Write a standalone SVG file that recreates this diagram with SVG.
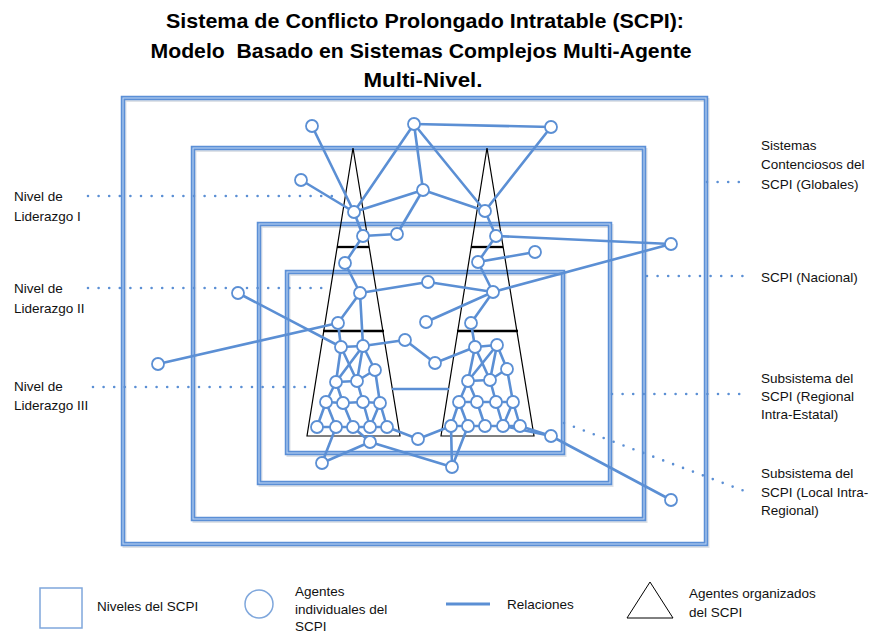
<svg xmlns="http://www.w3.org/2000/svg" width="873" height="635" viewBox="0 0 873 635">
<style>
.t{font-family:"Liberation Sans",Arial,sans-serif;font-size:13.5px;fill:#111}
.ti{font-family:"Liberation Sans",Arial,sans-serif;font-size:21px;font-weight:bold;fill:#000;white-space:pre}
.fr{fill:none;stroke:#5b8fd6;stroke-width:4.5}
.frh{fill:none;stroke:#b9d2f2;stroke-width:1.1}
.frs{fill:none;stroke:#7a8aa0;stroke-width:4;opacity:0.25}
.dot{fill:none;stroke:#5b8fd4;stroke-width:2.6;stroke-dasharray:0 10.6;stroke-linecap:round}
.tri{fill:none;stroke:#000;stroke-width:1.2}
.bar{stroke:#000;stroke-width:2.3}
#connectors line{stroke:#5b8fd4;stroke-width:2.6;stroke-linecap:round}
.nd{fill:#fff;stroke:#5b8fd4;stroke-width:1.8}
</style>
<rect width="873" height="635" fill="#fff"/>
<g id="title">
<text class="ti" x="425" y="28" text-anchor="middle" textLength="518" lengthAdjust="spacingAndGlyphs">Sistema de Conflicto Prolongado Intratable (SCPI):</text>
<text class="ti" x="421" y="58" text-anchor="middle" textLength="541" lengthAdjust="spacingAndGlyphs">Modelo  Basado en Sistemas Complejos Multi-Agente</text>
<text class="ti" x="423" y="87" text-anchor="middle" textLength="119" lengthAdjust="spacingAndGlyphs">Multi-Nivel.</text>
</g>
<g id="frames">
<g id="frame-globales"><rect class="frs" x="124.5" y="100" width="583" height="446"/><rect class="fr" x="123" y="98" width="583" height="446"/><rect class="frh" x="123" y="98" width="583" height="446"/></g>
<g id="frame-nacional"><rect class="frs" x="194.5" y="150" width="451" height="371"/><rect class="fr" x="193" y="148" width="451" height="371"/><rect class="frh" x="193" y="148" width="451" height="371"/></g>
<g id="frame-regional"><rect class="frs" x="260.5" y="226" width="351" height="259"/><rect class="fr" x="259" y="224" width="351" height="259"/><rect class="frh" x="259" y="224" width="351" height="259"/></g>
<g id="frame-local"><rect class="frs" x="288.5" y="274" width="276" height="181"/><rect class="fr" x="287" y="272" width="276" height="181"/><rect class="frh" x="287" y="272" width="276" height="181"/></g>
</g>
<g id="leaders">
<line class="dot" x1="88" y1="196" x2="342" y2="196"/>
<line class="dot" x1="88" y1="288" x2="328" y2="288"/>
<line class="dot" x1="93" y1="387" x2="308" y2="387"/>
<line class="dot" x1="707" y1="182" x2="748" y2="182"/>
<line class="dot" x1="647" y1="276" x2="748" y2="276"/>
<line class="dot" x1="612" y1="394" x2="748" y2="394"/>
<line class="dot" x1="564" y1="423" x2="747" y2="492"/>
</g>
<g id="labels">
<text class="t" x="14" y="201">Nivel de</text>
<text class="t" x="14" y="221">Liderazgo I</text>
<text class="t" x="14" y="293">Nivel de</text>
<text class="t" x="14" y="313">Liderazgo II</text>
<text class="t" x="14" y="391">Nivel de</text>
<text class="t" x="14" y="410">Liderazgo III</text>
<text class="t" x="761" y="150">Sistemas</text>
<text class="t" x="761" y="169">Contenciosos del</text>
<text class="t" x="761" y="189">SCPI (Globales)</text>
<text class="t" x="761" y="282">SCPI (Nacional)</text>
<text class="t" x="761" y="383">Subsistema del</text>
<text class="t" x="761" y="401">SCPI (Regional</text>
<text class="t" x="761" y="419">Intra-Estatal)</text>
<text class="t" x="761" y="478">Subsistema del</text>
<text class="t" x="761" y="497">SCPI (Local Intra-</text>
<text class="t" x="761" y="515">Regional)</text>
</g>
<g id="triangles">
<g id="triangle-left"><polygon class="tri" points="353,148 307,436 400,436"/><line class="bar" x1="337" y1="247" x2="369" y2="247"/><line class="bar" x1="323" y1="331" x2="384" y2="331"/></g>
<g id="triangle-right"><polygon class="tri" points="487,148 441,436 534,436"/><line class="bar" x1="471" y1="247" x2="503" y2="247"/><line class="bar" x1="457" y1="331" x2="518" y2="331"/></g>
</g>
<g id="connectors">
<line x1="312" y1="126" x2="354" y2="212"/>
<line x1="414" y1="124" x2="354" y2="212"/>
<line x1="301" y1="180" x2="354" y2="212"/>
<line x1="423" y1="190" x2="354" y2="212"/>
<line x1="414" y1="124" x2="423" y2="190"/>
<line x1="414" y1="124" x2="551" y2="127"/>
<line x1="414" y1="124" x2="485" y2="211"/>
<line x1="551" y1="127" x2="485" y2="211"/>
<line x1="423" y1="190" x2="485" y2="211"/>
<line x1="423" y1="190" x2="397" y2="234"/>
<line x1="354" y1="212" x2="363" y2="236"/>
<line x1="363" y1="236" x2="397" y2="234"/>
<line x1="363" y1="236" x2="345" y2="263"/>
<line x1="485" y1="211" x2="496" y2="236"/>
<line x1="496" y1="236" x2="671" y2="244"/>
<line x1="496" y1="236" x2="478" y2="262"/>
<line x1="478" y1="262" x2="535" y2="252"/>
<line x1="478" y1="262" x2="493" y2="292"/>
<line x1="493" y1="292" x2="671" y2="244"/>
<line x1="493" y1="292" x2="428" y2="282"/>
<line x1="493" y1="292" x2="426" y2="322"/>
<line x1="493" y1="292" x2="471" y2="323"/>
<line x1="345" y1="263" x2="360" y2="293"/>
<line x1="360" y1="293" x2="428" y2="282"/>
<line x1="360" y1="293" x2="338" y2="323"/>
<line x1="360" y1="293" x2="363" y2="346"/>
<line x1="338" y1="323" x2="341" y2="347"/>
<line x1="238" y1="293" x2="341" y2="347"/>
<line x1="158" y1="364" x2="338" y2="323"/>
<line x1="363" y1="346" x2="405" y2="340"/>
<line x1="405" y1="340" x2="435" y2="363"/>
<line x1="435" y1="363" x2="475" y2="347"/>
<line x1="471" y1="323" x2="475" y2="347"/>
<line x1="393" y1="389" x2="448" y2="389"/>
<line x1="341" y1="347" x2="363" y2="346"/>
<line x1="341" y1="347" x2="336" y2="382"/>
<line x1="363" y1="346" x2="336" y2="382"/>
<line x1="341" y1="347" x2="357" y2="381"/>
<line x1="363" y1="346" x2="357" y2="381"/>
<line x1="363" y1="346" x2="375" y2="370"/>
<line x1="375" y1="370" x2="357" y2="381"/>
<line x1="336" y1="382" x2="357" y2="381"/>
<line x1="336" y1="382" x2="326" y2="402"/>
<line x1="336" y1="382" x2="343" y2="403"/>
<line x1="357" y1="381" x2="363" y2="402"/>
<line x1="375" y1="370" x2="380" y2="403"/>
<line x1="326" y1="402" x2="343" y2="403"/>
<line x1="343" y1="403" x2="363" y2="402"/>
<line x1="363" y1="402" x2="380" y2="403"/>
<line x1="326" y1="402" x2="317" y2="427"/>
<line x1="326" y1="402" x2="336" y2="427"/>
<line x1="343" y1="403" x2="353" y2="427"/>
<line x1="363" y1="402" x2="370" y2="427"/>
<line x1="380" y1="403" x2="370" y2="427"/>
<line x1="380" y1="403" x2="387" y2="427"/>
<line x1="317" y1="427" x2="387" y2="427"/>
<line x1="475" y1="347" x2="497" y2="345"/>
<line x1="475" y1="347" x2="468" y2="381"/>
<line x1="497" y1="345" x2="468" y2="381"/>
<line x1="475" y1="347" x2="490" y2="380"/>
<line x1="497" y1="345" x2="490" y2="380"/>
<line x1="497" y1="345" x2="507" y2="369"/>
<line x1="507" y1="369" x2="490" y2="380"/>
<line x1="468" y1="381" x2="490" y2="380"/>
<line x1="468" y1="381" x2="459" y2="402"/>
<line x1="468" y1="381" x2="477" y2="402"/>
<line x1="490" y1="380" x2="496" y2="402"/>
<line x1="507" y1="369" x2="513" y2="402"/>
<line x1="459" y1="402" x2="477" y2="402"/>
<line x1="477" y1="402" x2="496" y2="402"/>
<line x1="496" y1="402" x2="513" y2="402"/>
<line x1="459" y1="402" x2="451" y2="426"/>
<line x1="459" y1="402" x2="468" y2="426"/>
<line x1="477" y1="402" x2="485" y2="426"/>
<line x1="496" y1="402" x2="503" y2="426"/>
<line x1="513" y1="402" x2="503" y2="426"/>
<line x1="513" y1="402" x2="520" y2="426"/>
<line x1="451" y1="426" x2="520" y2="426"/>
<line x1="336" y1="427" x2="322" y2="463"/>
<line x1="353" y1="427" x2="370" y2="442"/>
<line x1="322" y1="463" x2="370" y2="442"/>
<line x1="370" y1="442" x2="452" y2="467"/>
<line x1="387" y1="427" x2="418" y2="439"/>
<line x1="418" y1="439" x2="451" y2="426"/>
<line x1="451" y1="426" x2="452" y2="467"/>
<line x1="468" y1="426" x2="452" y2="467"/>
<line x1="503" y1="426" x2="551" y2="436"/>
<line x1="520" y1="426" x2="551" y2="436"/>
<line x1="551" y1="436" x2="671" y2="500"/>
</g>
<g id="nodes">
<g id="n1"><circle class="nd" cx="312" cy="126" r="6"/></g>
<g id="n2"><circle class="nd" cx="414" cy="124" r="6"/></g>
<g id="n3"><circle class="nd" cx="551" cy="127" r="6"/></g>
<g id="n4"><circle class="nd" cx="301" cy="180" r="6"/></g>
<g id="n5"><circle class="nd" cx="423" cy="190" r="6"/></g>
<g id="n6"><circle class="nd" cx="354" cy="212" r="6"/></g>
<g id="n7"><circle class="nd" cx="363" cy="236" r="6"/></g>
<g id="n8"><circle class="nd" cx="397" cy="234" r="6"/></g>
<g id="n9"><circle class="nd" cx="345" cy="263" r="6"/></g>
<g id="n10"><circle class="nd" cx="485" cy="211" r="6"/></g>
<g id="n11"><circle class="nd" cx="496" cy="236" r="6"/></g>
<g id="n12"><circle class="nd" cx="671" cy="244" r="6"/></g>
<g id="n13"><circle class="nd" cx="535" cy="252" r="6"/></g>
<g id="n14"><circle class="nd" cx="478" cy="262" r="6"/></g>
<g id="n15"><circle class="nd" cx="360" cy="293" r="6"/></g>
<g id="n16"><circle class="nd" cx="493" cy="292" r="6"/></g>
<g id="n17"><circle class="nd" cx="338" cy="323" r="6"/></g>
<g id="n18"><circle class="nd" cx="428" cy="282" r="6"/></g>
<g id="n19"><circle class="nd" cx="238" cy="293" r="6"/></g>
<g id="n20"><circle class="nd" cx="158" cy="364" r="6"/></g>
<g id="n21"><circle class="nd" cx="426" cy="322" r="6"/></g>
<g id="n22"><circle class="nd" cx="471" cy="323" r="6"/></g>
<g id="n23"><circle class="nd" cx="405" cy="340" r="6"/></g>
<g id="n24"><circle class="nd" cx="435" cy="363" r="6"/></g>
<g id="a1"><circle class="nd" cx="341" cy="347" r="6"/></g>
<g id="a2"><circle class="nd" cx="363" cy="346" r="6"/></g>
<g id="a3"><circle class="nd" cx="375" cy="370" r="6"/></g>
<g id="a4"><circle class="nd" cx="336" cy="382" r="6"/></g>
<g id="a5"><circle class="nd" cx="357" cy="381" r="6"/></g>
<g id="a6"><circle class="nd" cx="326" cy="402" r="6"/></g>
<g id="a7"><circle class="nd" cx="343" cy="403" r="6"/></g>
<g id="a8"><circle class="nd" cx="363" cy="402" r="6"/></g>
<g id="a9"><circle class="nd" cx="380" cy="403" r="6"/></g>
<g id="a10"><circle class="nd" cx="317" cy="427" r="6"/></g>
<g id="a11"><circle class="nd" cx="336" cy="427" r="6"/></g>
<g id="a12"><circle class="nd" cx="353" cy="427" r="6"/></g>
<g id="a13"><circle class="nd" cx="370" cy="427" r="6"/></g>
<g id="a14"><circle class="nd" cx="387" cy="427" r="6"/></g>
<g id="b1"><circle class="nd" cx="475" cy="347" r="6"/></g>
<g id="b2"><circle class="nd" cx="497" cy="345" r="6"/></g>
<g id="b3"><circle class="nd" cx="507" cy="369" r="6"/></g>
<g id="b4"><circle class="nd" cx="468" cy="381" r="6"/></g>
<g id="b5"><circle class="nd" cx="490" cy="380" r="6"/></g>
<g id="b6"><circle class="nd" cx="459" cy="402" r="6"/></g>
<g id="b7"><circle class="nd" cx="477" cy="402" r="6"/></g>
<g id="b8"><circle class="nd" cx="496" cy="402" r="6"/></g>
<g id="b9"><circle class="nd" cx="513" cy="402" r="6"/></g>
<g id="b10"><circle class="nd" cx="451" cy="426" r="6"/></g>
<g id="b11"><circle class="nd" cx="468" cy="426" r="6"/></g>
<g id="b12"><circle class="nd" cx="485" cy="426" r="6"/></g>
<g id="b13"><circle class="nd" cx="503" cy="426" r="6"/></g>
<g id="b14"><circle class="nd" cx="520" cy="426" r="6"/></g>
<g id="c1"><circle class="nd" cx="370" cy="442" r="6"/></g>
<g id="c2"><circle class="nd" cx="418" cy="439" r="6"/></g>
<g id="c3"><circle class="nd" cx="322" cy="463" r="6"/></g>
<g id="c4"><circle class="nd" cx="452" cy="467" r="6"/></g>
<g id="c5"><circle class="nd" cx="551" cy="436" r="6"/></g>
<g id="c6"><circle class="nd" cx="671" cy="500" r="6"/></g>
</g>
<g id="legend">
<rect x="40" y="588" width="42" height="40" fill="#fff" stroke="#7fa7dc" stroke-width="1.5"/>
<text class="t" x="97" y="611">Niveles del SCPI</text>
<circle cx="259" cy="604" r="14" fill="#fff" stroke="#7fa7dc" stroke-width="1.5"/>
<text class="t" x="295" y="596">Agentes</text>
<text class="t" x="295" y="614">individuales del</text>
<text class="t" x="295" y="631">SCPI</text>
<line x1="446" y1="604" x2="490" y2="604" stroke="#5b8fd4" stroke-width="3"/>
<text class="t" x="507" y="609">Relaciones</text>
<polygon points="650,582 627,618 673,618" fill="#fff" stroke="#000" stroke-width="1"/>
<text class="t" x="689" y="598">Agentes organizados</text>
<text class="t" x="689" y="617">del SCPI</text>
</g>
</svg>
